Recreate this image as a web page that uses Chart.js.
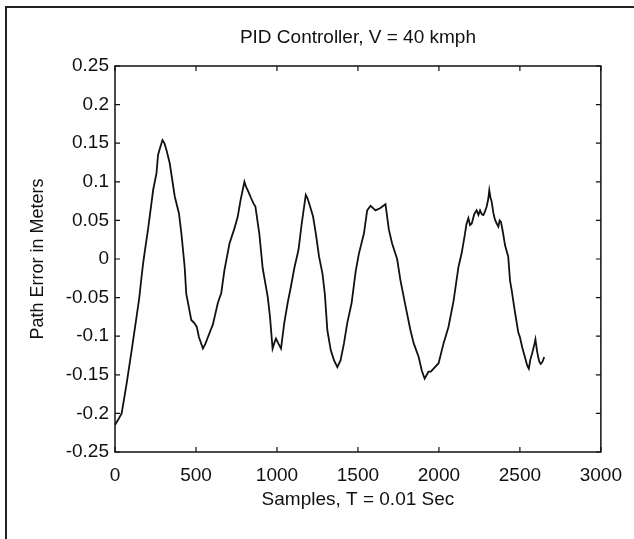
<!DOCTYPE html>
<html>
<head>
<meta charset="utf-8">
<script src="https://cdn.jsdelivr.net/npm/chart.js@4"></script>
<style>
  html, body { margin: 0; padding: 0; background: #fff; }
  #wrap { position: relative; width: 634px; height: 539px; }
  #frame { position: absolute; left: 5px; top: 6px; right: 0; bottom: 0;
           border-left: 2px solid #222; border-top: 2px solid #222; pointer-events: none; }
</style>
</head>
<body>
<div id="wrap">
  <canvas id="pidChart" width="634" height="539"></canvas>
  <div id="frame"></div>
</div>
<script>
// DADOS
const chartTitle = "PID Controller, V = 40 kmph";
const xTicks = [0, 500, 1000, 1500, 2000, 2500, 3000];
const yTicks = [-0.25, -0.2, -0.15, -0.1, -0.05, 0, 0.05, 0.1, 0.15, 0.2, 0.25];

const samples = [
    0, 20, 41, 72, 103, 133, 150, 164, 174, 184, 205, 236, 256, 266, 280, 293, 305, 318, 338, 369,
    395, 410, 430, 440, 471, 490, 505, 518, 543, 558, 574, 604, 635, 656, 676, 707, 738, 758, 775, 799,
    810, 820, 840, 855, 867, 891, 912, 943, 957, 973, 985, 994, 1010, 1025, 1045, 1066, 1086, 1107, 1133, 1153,
    1178, 1188, 1199, 1223, 1240, 1260, 1281, 1296, 1311, 1332, 1352, 1373, 1393, 1414, 1434, 1461, 1486, 1506, 1537, 1557,
    1578, 1609, 1639, 1670, 1691, 1711, 1742, 1762, 1793, 1824, 1844, 1875, 1895, 1912, 1925, 1936, 1950, 1967, 1998, 2029,
    2059, 2090, 2121, 2141, 2158, 2170, 2182, 2192, 2203, 2218, 2233, 2244, 2254, 2265, 2275, 2285, 2295, 2305, 2311, 2318,
    2326, 2336, 2346, 2357, 2367, 2375, 2383, 2395, 2408, 2428, 2439, 2449, 2469, 2490, 2500, 2515, 2531, 2545, 2555, 2565,
    2576, 2590, 2596, 2605, 2613, 2620, 2629, 2640, 2650
];
const pathError = [
    -0.215, -0.208, -0.200, -0.161, -0.118, -0.075, -0.050, -0.023, -0.005, 0.010, 0.040, 0.090, 0.111, 0.135, 0.145, 0.154, 0.150, 0.141, 0.124, 0.081,
    0.059, 0.033, -0.010, -0.045, -0.079, -0.083, -0.088, -0.101, -0.116, -0.110, -0.101, -0.085, -0.057, -0.044, -0.014, 0.020, 0.040, 0.055, 0.076, 0.100,
    0.093, 0.089, 0.079, 0.072, 0.068, 0.033, -0.012, -0.049, -0.075, -0.116, -0.108, -0.103, -0.110, -0.116, -0.083, -0.057, -0.036, -0.012, 0.012, 0.046,
    0.083, 0.079, 0.072, 0.055, 0.033, 0.003, -0.019, -0.046, -0.092, -0.118, -0.131, -0.140, -0.131, -0.109, -0.083, -0.057, -0.016, 0.007, 0.033, 0.063,
    0.069, 0.063, 0.066, 0.071, 0.038, 0.020, 0.000, -0.027, -0.060, -0.092, -0.109, -0.127, -0.145, -0.155, -0.150, -0.146, -0.146, -0.142, -0.135, -0.109,
    -0.088, -0.055, -0.010, 0.008, 0.029, 0.045, 0.053, 0.044, 0.046, 0.058, 0.063, 0.057, 0.063, 0.058, 0.057, 0.062, 0.068, 0.078, 0.089, 0.080,
    0.074, 0.060, 0.051, 0.046, 0.042, 0.050, 0.048, 0.035, 0.018, 0.003, -0.028, -0.040, -0.068, -0.095, -0.101, -0.115, -0.127, -0.138, -0.142, -0.130,
    -0.122, -0.110, -0.104, -0.118, -0.127, -0.133, -0.136, -0.133, -0.127
];

const FONT = "'Liberation Sans', Arial, Helvetica, sans-serif";
const INK = "#111";

// caixa + ticks para dentro (estilo MATLAB) + título centrado no gráfico
const boxPlugin = {
    id: "box",
    afterDatasetsDraw(chart) {
        const { ctx, chartArea: a, scales } = chart;
        ctx.save();
        ctx.strokeStyle = INK;
        ctx.lineWidth = 1.5;
        ctx.strokeRect(a.left, a.top, a.right - a.left, a.bottom - a.top);
        ctx.lineWidth = 1.2;
        ctx.beginPath();
        xTicks.forEach(v => {
            const px = scales.x.getPixelForValue(v);
            ctx.moveTo(px, a.bottom); ctx.lineTo(px, a.bottom - 5);
            ctx.moveTo(px, a.top); ctx.lineTo(px, a.top + 5);
        });
        yTicks.forEach(v => {
            const py = scales.y.getPixelForValue(v);
            ctx.moveTo(a.left, py); ctx.lineTo(a.left + 5, py);
            ctx.moveTo(a.right, py); ctx.lineTo(a.right - 5, py);
        });
        ctx.stroke();
        ctx.fillStyle = INK;
        ctx.font = "19px " + FONT;
        ctx.textAlign = "center";
        ctx.textBaseline = "middle";
        ctx.fillText(chartTitle, (a.left + a.right) / 2, 38);
        ctx.restore();
    }
};

new Chart(document.getElementById("pidChart"), {
    type: "line",
    data: {
        datasets: [{
            label: "Path Error",
            data: samples.map((s, i) => ({ x: s, y: pathError[i] })),
            borderColor: INK,
            borderWidth: 1.8,
            pointRadius: 0,
            tension: 0,
            fill: false
        }]
    },
    options: {
        responsive: false,
        animation: false,
        layout: { padding: { top: 66, right: 31, left: 0, bottom: 0 } },
        plugins: {
            legend: { display: false },
            tooltip: { enabled: false }
        },
        scales: {
            x: {
                type: "linear",
                min: 0, max: 3000,
                afterBuildTicks: s => { s.ticks = xTicks.map(v => ({ value: v })); },
                afterFit: s => { s.height = 87; },
                grid: { display: false, drawTicks: false },
                border: { display: false },
                ticks: { color: INK, font: { family: FONT, size: 19 }, padding: 12, maxRotation: 0, callback: v => String(v) },
                title: {
                    display: true, text: "Samples, T = 0.01 Sec", color: INK,
                    font: { family: FONT, size: 19 }, padding: { top: 0, bottom: 28 }
                }
            },
            y: {
                min: -0.25, max: 0.25,
                afterBuildTicks: s => { s.ticks = yTicks.map(v => ({ value: v })); },
                afterFit: s => { s.width = 115; },
                grid: { display: false, drawTicks: false },
                border: { display: false },
                ticks: { color: INK, font: { family: FONT, size: 19 }, padding: 6, callback: v => String(+v.toFixed(2)) },
                title: {
                    display: true, text: "Path Error in Meters", color: INK,
                    font: { family: FONT, size: 18 }, padding: { top: 27, bottom: 0 }
                }
            }
        }
    },
    plugins: [boxPlugin]
});
</script>
</body>
</html>
